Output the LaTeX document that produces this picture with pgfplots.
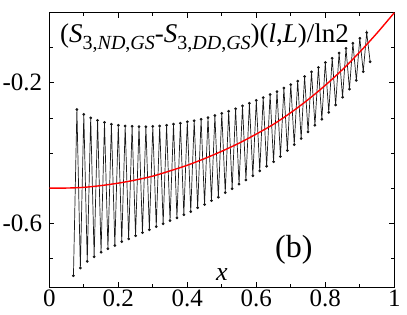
\documentclass[border=0pt]{standalone}
\usepackage{fontspec}
\setmainfont{Liberation Serif}
\usepackage{pgfplots}
\pgfplotsset{compat=1.18}
\newcommand{\sub}[1]{\raisebox{-7pt}{\fontsize{20}{20}\selectfont #1}}
\begin{document}
\begin{tikzpicture}
\begin{axis}[
  scale only axis,
  width=345pt, height=274.6pt,
  xmin=0, xmax=1, ymin=-0.783, ymax=0.0,
  axis line style={line width=1.2pt},
  xtick={0,0.2,0.4,0.6,0.8,1},
  xticklabels={0,0.2,0.4,0.6,0.8,1},
  minor xtick={0.1,0.3,0.5,0.7,0.9},
  ytick={-0.6,-0.2},
  yticklabels={-0.6,-0.2},
  minor ytick={-0.7,-0.5,-0.4,-0.3,-0.1},
  tick style={black, line width=0.8pt},
  major tick length=5pt, minor tick length=3.5pt,
  tick align=inside,
  xtick pos=both, ytick pos=both,
  ticklabel style={font=\fontsize{25}{25}\selectfont},
  xticklabel style={inner sep=0pt, yshift=-2pt},
  yticklabel style={inner sep=0pt, xshift=-7pt},
  clip=false,
]
\addplot[black!90, line width=0.7pt, mark=*, mark size=1pt, mark options={fill=black}] coordinates {
(0.07,-0.750) (0.08,-0.276) (0.09,-0.728) (0.10,-0.290) (0.11,-0.709) (0.12,-0.300)
(0.13,-0.696) (0.14,-0.307) (0.15,-0.683) (0.16,-0.313) (0.17,-0.673) (0.18,-0.318)
(0.19,-0.664) (0.20,-0.321) (0.21,-0.653) (0.22,-0.323) (0.23,-0.645) (0.24,-0.324)
(0.25,-0.636) (0.26,-0.325) (0.27,-0.627) (0.28,-0.325) (0.29,-0.619) (0.30,-0.324)
(0.31,-0.610) (0.32,-0.323) (0.33,-0.602) (0.34,-0.321) (0.35,-0.593) (0.36,-0.318)
(0.37,-0.585) (0.38,-0.315) (0.39,-0.576) (0.40,-0.311) (0.41,-0.567) (0.42,-0.308)
(0.43,-0.556) (0.44,-0.304) (0.45,-0.547) (0.46,-0.299) (0.47,-0.536) (0.48,-0.293)
(0.49,-0.526) (0.50,-0.287) (0.51,-0.513) (0.52,-0.281) (0.53,-0.502) (0.54,-0.274)
(0.55,-0.489) (0.56,-0.266) (0.57,-0.477) (0.58,-0.258) (0.59,-0.465) (0.60,-0.250)
(0.61,-0.451) (0.62,-0.242) (0.63,-0.438) (0.64,-0.233) (0.65,-0.425) (0.66,-0.225)
(0.67,-0.410) (0.68,-0.215) (0.69,-0.393) (0.70,-0.205) (0.71,-0.376) (0.72,-0.195)
(0.73,-0.359) (0.74,-0.182) (0.75,-0.340) (0.76,-0.169) (0.77,-0.321) (0.78,-0.156)
(0.79,-0.304) (0.80,-0.142) (0.81,-0.284) (0.82,-0.130) (0.83,-0.263) (0.84,-0.115)
(0.85,-0.241) (0.86,-0.102) (0.87,-0.218) (0.88,-0.087) (0.89,-0.193) (0.90,-0.073)
(0.91,-0.168) (0.92,-0.057) (0.93,-0.140)
};
\addplot[red, line width=1.4pt, smooth] coordinates {
(0,-0.500) (0.05,-0.500) (0.10,-0.498) (0.15,-0.493) (0.20,-0.486) (0.25,-0.477)
(0.30,-0.466) (0.35,-0.451) (0.40,-0.435) (0.45,-0.416) (0.50,-0.395) (0.55,-0.372)
(0.60,-0.346) (0.65,-0.318) (0.70,-0.285) (0.75,-0.248) (0.80,-0.207) (0.85,-0.162)
(0.90,-0.112) (0.95,-0.058) (1.00,0.000)
};
\node[anchor=base west, inner sep=0pt, font=\fontsize{27}{27}\selectfont] at (axis cs:0.031,-0.084)
  {(\textit{S}\sub{3,\textit{ND},\textit{GS}}-\textit{S}\sub{3,\textit{DD},\textit{GS}})(\textit{l},\textit{L})/ln2};
\node[inner sep=0pt, font=\fontsize{32}{32}\selectfont] at (axis cs:0.709,-0.675) {(b)};
\node[inner sep=0pt, font=\fontsize{26}{26}\selectfont\itshape] at (axis cs:0.5,-0.748) {x};
\end{axis}
\pgfresetboundingbox
\path (-49.3pt,-27.7pt) rectangle (357.7pt,287.3pt);
\end{tikzpicture}
\end{document}
